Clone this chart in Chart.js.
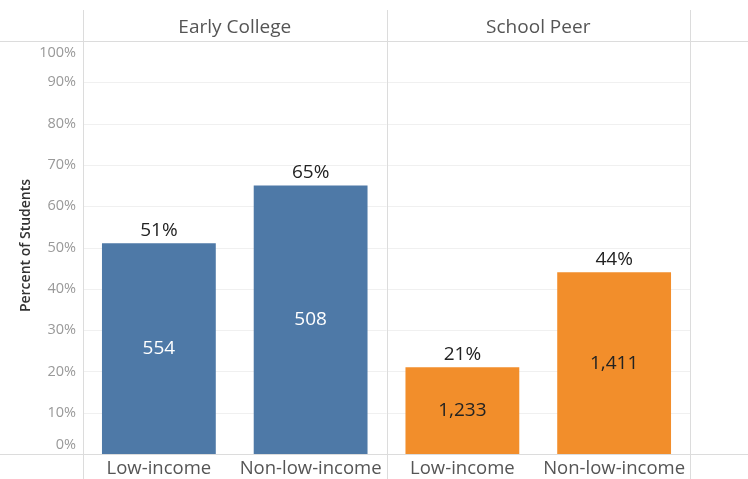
<!DOCTYPE html>
<html>
<head>
<meta charset="utf-8">
<script src="https://cdn.jsdelivr.net/npm/chart.js@4.4.1/dist/chart.umd.min.js"></script>
<style>
  html, body { margin: 0; padding: 0; background: #fff; }
  #wrap { width: 748px; height: 479px; }
</style>
</head>
<body>
<div id="wrap"><canvas id="chart" width="748" height="479"></canvas></div>
<script>
// --- Data ---
const groups = ['Early College', 'School Peer'];
const categories = ['Low-income', 'Non-low-income', 'Low-income', 'Non-low-income'];
const categoryGroup = [0, 0, 1, 1];
const percentValues = [51, 65, 21, 44];
const studentCounts = [554, 508, 1233, 1411];
const yTicks = [0, 10, 20, 30, 40, 50, 60, 70, 80, 90, 100];

// --- Styles ---
const groupColors = ['#4e79a7', '#f28e2b'];
const innerTextColors = ['#ffffff', '#222222'];
const FONT = '"Open Sans", "Noto Sans", sans-serif';
const lineColor = '#dcdcdc';
const gridColor = '#f0f0f0';

// Frame, gridlines and all text drawn from the chart's scales
const tableauLayout = {
    id: 'tableauLayout',
    beforeDatasetsDraw(chart) {
        const ctx = chart.ctx;
        const area = chart.chartArea;
        const x = chart.scales.x;
        const y = chart.scales.y;
        ctx.save();

        // horizontal gridlines
        ctx.strokeStyle = gridColor;
        ctx.lineWidth = 1;
        yTicks.forEach(v => {
            const py = Math.round(y.getPixelForValue(v)) + 0.5;
            ctx.beginPath();
            ctx.moveTo(area.left, py);
            ctx.lineTo(area.right, py);
            ctx.stroke();
        });

        // header line and axis line
        ctx.strokeStyle = lineColor;
        [area.top, area.bottom].forEach(py => {
            ctx.beginPath();
            ctx.moveTo(0, Math.round(py) + 0.5);
            ctx.lineTo(chart.width, Math.round(py) + 0.5);
            ctx.stroke();
        });

        // panel dividers
        const dividers = [area.left, area.right];
        for (let i = 1; i < categories.length; i++) {
            if (categoryGroup[i] !== categoryGroup[i - 1]) {
                dividers.push((x.getPixelForValue(i - 1) + x.getPixelForValue(i)) / 2);
            }
        }
        dividers.forEach(px => {
            ctx.beginPath();
            ctx.moveTo(Math.round(px) + 0.5, 10);
            ctx.lineTo(Math.round(px) + 0.5, chart.height);
            ctx.stroke();
        });
        ctx.restore();
    },
    afterDatasetsDraw(chart) {
        const ctx = chart.ctx;
        const area = chart.chartArea;
        const x = chart.scales.x;
        const y = chart.scales.y;
        const meta = chart.getDatasetMeta(0);
        ctx.save();
        ctx.textAlign = 'center';
        ctx.textBaseline = 'middle';

        // value labels above bars and counts inside
        meta.data.forEach((bar, i) => {
            ctx.font = '19px ' + FONT;
            ctx.fillStyle = '#222';
            ctx.fillText(percentValues[i] + '%', bar.x, bar.y - 13);
            ctx.fillStyle = innerTextColors[categoryGroup[i]];
            ctx.fillText(studentCounts[i].toLocaleString('en-US'), bar.x, (bar.y + bar.base) / 2);
        });

        // category labels
        ctx.font = '18.5px ' + FONT;
        ctx.fillStyle = '#555';
        categories.forEach((c, i) => {
            ctx.fillText(c, x.getPixelForValue(i), area.bottom + 15);
        });

        // group headers
        ctx.font = '19px ' + FONT;
        groups.forEach((g, gi) => {
            const idx = categoryGroup.map((v, i) => v === gi ? i : -1).filter(i => i >= 0);
            const cx = idx.reduce((s, i) => s + x.getPixelForValue(i), 0) / idx.length;
            ctx.fillText(g, cx, 28);
        });

        // y tick labels, kept inside the panel like Tableau does
        ctx.font = '14.5px ' + FONT;
        ctx.fillStyle = '#999';
        ctx.textAlign = 'right';
        yTicks.forEach(v => {
            let py = y.getPixelForValue(v);
            py = Math.min(Math.max(py, area.top + 12), area.bottom - 9);
            ctx.fillText(v + '%', area.left - 7, py);
        });

        // y axis title
        ctx.translate(26, (area.top + area.bottom) / 2 - 2);
        ctx.rotate(-Math.PI / 2);
        ctx.textAlign = 'center';
        ctx.font = '600 14px ' + FONT;
        ctx.fillStyle = '#333';
        ctx.fillText('Percent of Students', 0, 0);
        ctx.restore();
    }
};

new Chart(document.getElementById('chart'), {
    type: 'bar',
    data: {
        labels: categories,
        datasets: [{
            data: percentValues,
            backgroundColor: categoryGroup.map(g => groupColors[g]),
            borderWidth: 0,
            barPercentage: 0.75,
            categoryPercentage: 1.0
        }]
    },
    options: {
        responsive: false,
        animation: false,
        layout: { padding: { left: 83, right: 58, top: 41, bottom: 25 } },
        plugins: {
            legend: { display: false },
            tooltip: { enabled: false }
        },
        scales: {
            x: { display: false },
            y: { display: false, min: 0, max: 100 }
        }
    },
    plugins: [tableauLayout]
});
</script>
</body>
</html>
